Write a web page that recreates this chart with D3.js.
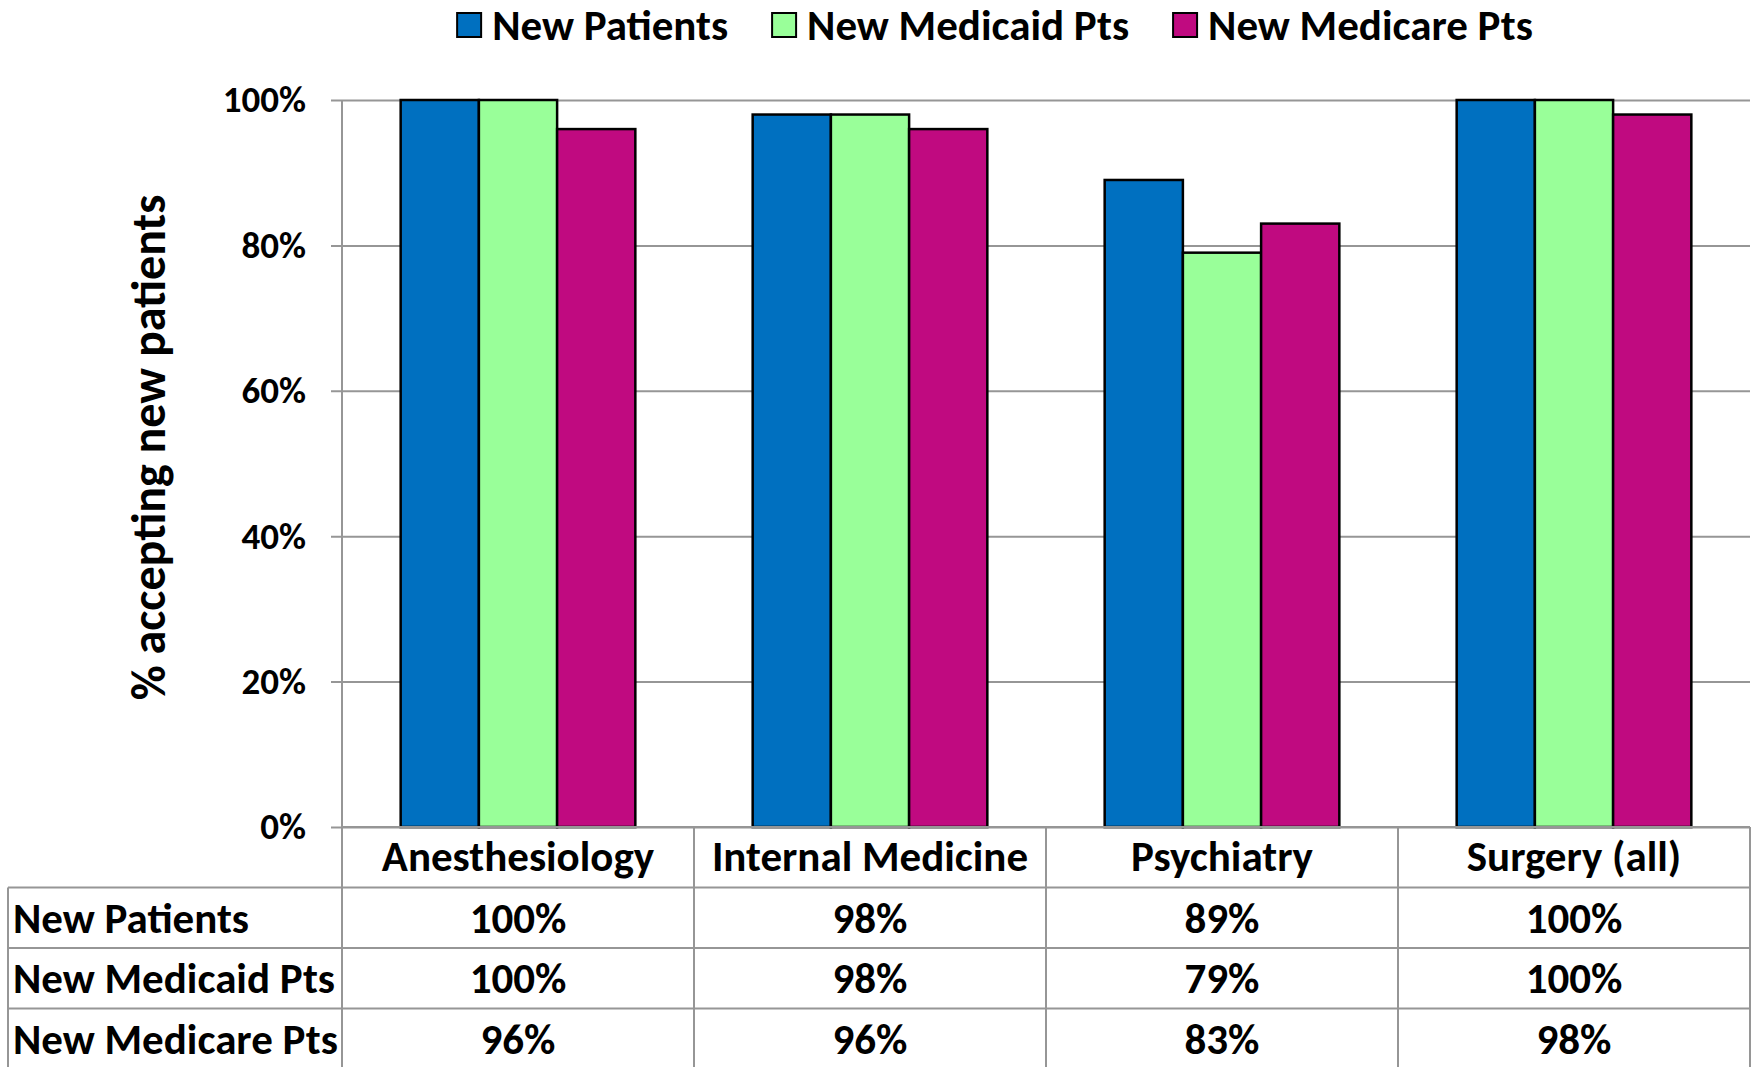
<html>
<style>
body { margin: 0; background: #fff; }
text { font-family: Carlito, Lato, "Open Sans", sans-serif; font-weight: bold; fill: #000; }
</style>
<body>
<script src="https://cdnjs.cloudflare.com/ajax/libs/d3/7.8.5/d3.min.js"></script>
<script>

var categories = ["Anesthesiology", "Internal Medicine", "Psychiatry", "Surgery (all)"];
var seriesNames = ["New Patients", "New Medicaid Pts", "New Medicare Pts"];
var newPatients = [100, 98, 89, 100];
var newMedicaid = [100, 98, 79, 100];
var newMedicare = [96, 96, 83, 98];
var yTicks = [0, 20, 40, 60, 80, 100];
var colors = ["#0070C0", "#99FF99", "#C00A80"];

var seriesValues = [newPatients, newMedicaid, newMedicare];

var width = 1762,
    height = 1067,
    plotLeft = 342,
    plotRight = 1750,
    plotTop = 100,
    plotBottom = 827,
    rowH = 60.5,
    fs = 43;

var svg = d3.select("body").append("svg")
    .attr("width", width)
    .attr("height", height);

var x = d3.scaleBand()
    .domain(categories)
    .range([plotLeft, plotRight]);

var bw = x.bandwidth();

var xs = d3.scaleBand()
    .domain(seriesNames)
    .range([bw / 6, bw * 5 / 6]);

var y = d3.scaleLinear()
    .domain([0, 100])
    .range([plotBottom, plotTop]);

// gridlines + y axis
var yAxis = d3.axisLeft(y)
    .tickValues(yTicks)
    .tickSize(-(plotRight - plotLeft))
    .tickPadding(36)
    .tickFormat(function(d) { return d + "%"; });

var ga = svg.append("g")
    .attr("transform", "translate(" + plotLeft + ",0)")
    .call(yAxis);
ga.select(".domain").remove();
ga.attr("font-family", null).attr("font-size", null);
ga.selectAll(".tick line")
    .attr("x1", -11)
    .attr("stroke", "#969696")
    .attr("stroke-width", 2);
ga.selectAll(".tick text")
    .style("font-size", "37px")
    .attr("dy", "0.32em");

svg.append("line")
    .attr("x1", plotLeft).attr("x2", plotLeft)
    .attr("y1", plotTop).attr("y2", height)
    .attr("stroke", "#969696")
    .attr("stroke-width", 2);

svg.append("text")
    .attr("transform", "translate(165," + ((plotTop + plotBottom) / 2 - 16) + ") rotate(-90)")
    .attr("text-anchor", "middle")
    .style("font-size", "48px")
    .text("% accepting new patients");

// bars
var groups = svg.selectAll("g.cat")
    .data(categories)
    .enter().append("g")
    .attr("class", "cat")
    .attr("transform", function(d) { return "translate(" + x(d) + ",0)"; });

groups.selectAll("rect")
    .data(function(d, i) {
      return seriesNames.map(function(s, j) { return { s: s, v: seriesValues[j][i], j: j }; });
    })
    .enter().append("rect")
    .attr("x", function(d) { return xs(d.s); })
    .attr("width", xs.bandwidth())
    .attr("y", function(d) { return y(d.v); })
    .attr("height", function(d) { return y(0) - y(d.v); })
    .attr("fill", function(d) { return colors[d.j]; })
    .attr("stroke", "#000")
    .attr("stroke-width", 2.5);

// data table
var tbl = svg.append("g");
var gridColor = "#969696";

tbl.append("line")
    .attr("x1", plotLeft).attr("x2", plotRight)
    .attr("y1", plotBottom).attr("y2", plotBottom)
    .attr("stroke", gridColor).attr("stroke-width", 2);
seriesNames.forEach(function(s, j) {
  tbl.append("line")
      .attr("x1", 8).attr("x2", plotRight)
      .attr("y1", plotBottom + rowH * (j + 1)).attr("y2", plotBottom + rowH * (j + 1))
      .attr("stroke", gridColor).attr("stroke-width", 2);
});
tbl.append("line")
    .attr("x1", 8).attr("x2", 8)
    .attr("y1", plotBottom + rowH).attr("y2", height)
    .attr("stroke", gridColor).attr("stroke-width", 2);
categories.forEach(function(c) {
  tbl.append("line")
      .attr("x1", x(c) + bw).attr("x2", x(c) + bw)
      .attr("y1", plotBottom).attr("y2", height)
      .attr("stroke", gridColor).attr("stroke-width", 2);
});

tbl.selectAll("text.cat")
    .data(categories)
    .enter().append("text")
    .attr("class", "cat")
    .attr("x", function(d) { return x(d) + bw / 2; })
    .attr("y", plotBottom + rowH / 2)
    .attr("dy", "0.33em")
    .attr("text-anchor", "middle")
    .style("font-size", fs + "px")
    .text(function(d) { return d; });

seriesNames.forEach(function(s, j) {
  var cy = plotBottom + rowH * (j + 1.5);
  tbl.append("text")
      .attr("x", 13)
      .attr("y", cy)
      .attr("dy", "0.35em")
      .style("font-size", fs + "px")
      .text(s);
  tbl.selectAll("text.v" + j)
      .data(seriesValues[j])
      .enter().append("text")
      .attr("class", "v" + j)
      .attr("x", function(d, i) { return x(categories[i]) + bw / 2; })
      .attr("y", cy)
      .attr("dy", "0.35em")
      .attr("text-anchor", "middle")
      .style("font-size", fs + "px")
      .text(function(d) { return d + "%"; });
});

// legend
var legend = svg.append("g");
var lx = 0;
seriesNames.forEach(function(s, j) {
  var item = legend.append("g").attr("transform", "translate(" + lx + ",0)");
  item.append("rect")
      .attr("x", 0).attr("y", -12)
      .attr("width", 24).attr("height", 24)
      .attr("fill", colors[j])
      .attr("stroke", "#000")
      .attr("stroke-width", 2);
  var t = item.append("text")
      .attr("x", 35)
      .attr("y", 0)
      .attr("dy", "0.35em")
      .style("font-size", fs + "px")
      .text(s);
  lx += 35 + t.node().getComputedTextLength() + 44;
});
var lw = lx - 44;
legend.attr("transform", "translate(" + (995 - lw / 2) + ",25)");

</script>
</body>
</html>
